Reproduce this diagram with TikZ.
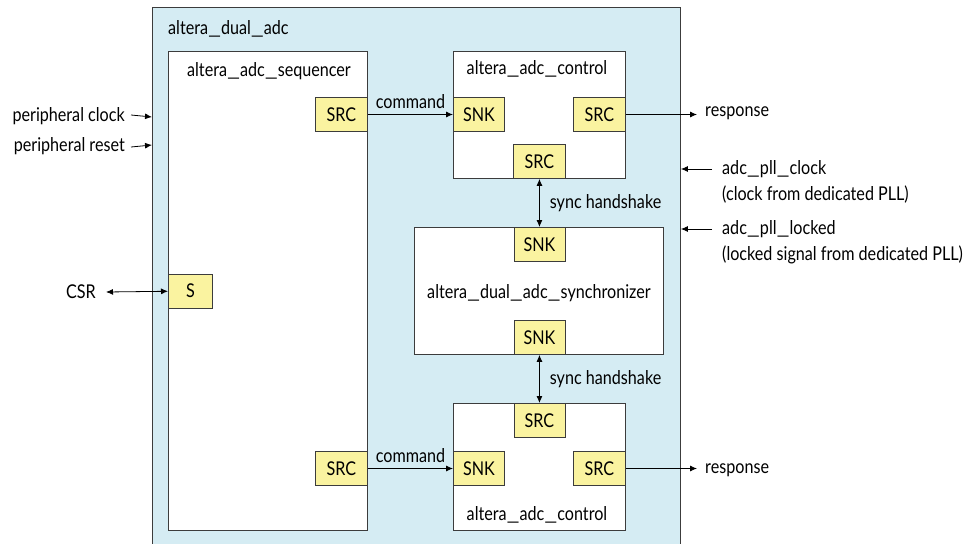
\documentclass[tikz,border=0pt]{standalone}
\usepackage{fontspec}
\setmainfont[FakeStretch=0.85]{Lato}
\usetikzlibrary{positioning,arrows.meta}
\definecolor{adcblue}{RGB}{213,236,243}
\definecolor{portyellow}{RGB}{250,243,160}
\definecolor{edgegray}{RGB}{60,60,60}
\newcommand{\us}{\scalebox{1.75}[1]{\_}}

\begin{document}
\begin{tikzpicture}[x=1pt, y=-1pt, >={Latex[length=7pt,width=6pt]},
			font=\fontsize{19}{23}\selectfont,
			blk/.style={draw=edgegray,line width=0.9pt,fill=white,inner sep=0pt},
			port/.style={draw=edgegray,line width=0.9pt,fill=portyellow,inner sep=0pt,minimum width=52,minimum height=34},
			lbl/.style={inner sep=0pt},
			wire/.style={line width=0.8pt}]
			
			\useasboundingbox (0,0) rectangle (976,543);
			
			% outer block
			\node[blk, fill=adcblue, anchor=north west, minimum width=528, minimum height=545] (top) at (152,7) {};
			\node[lbl, anchor=west] (toplbl) at (168,29) {altera\us dual\us adc};
			
			% sequencer
			\node[blk, anchor=north west, minimum width=199, minimum height=479] (seq) at (168,51) {};
			\node[lbl] (seqlbl) at (269,71) {altera\us adc\us sequencer};
			\node[port, anchor=east] (seqsrc1) at (seq.east |- 0,114.5) {SRC};
			\node[port, anchor=east] (seqsrc2) at (seq.east |- 0,468.5) {SRC};
			\node[port, anchor=west, minimum width=44] (seqs) at (seq.west |- 0,291) {S};
			
			% upper control
			\node[blk, anchor=north west, minimum width=172, minimum height=127] (ctrl1) at (453,51) {};
			\node[lbl] (ctrl1lbl) at (537,69) {altera\us adc\us control};
			\node[port, anchor=west, minimum width=51] (ctrl1snk) at (ctrl1.west |- seqsrc1) {SNK};
			\node[port, anchor=east] (ctrl1src) at (ctrl1.east |- seqsrc1) {SRC};
			\node[port, anchor=south] (ctrl1srcb) at (ctrl1.south) {SRC};
			
			% synchronizer
			\node[blk, anchor=north west, minimum width=249, minimum height=127] (sync) at (414,227) {};
			\node[lbl] (synclbl) at (539,293) {altera\us dual\us adc\us synchronizer};
			\node[port, anchor=north, minimum width=51] (syncsnk1) at (sync.north -| ctrl1srcb) {SNK};
			\node[port, anchor=south, minimum width=51] (syncsnk2) at (sync.south -| ctrl1srcb) {SNK};
			
			% lower control
			\node[blk, anchor=north west, minimum width=172, minimum height=127] (ctrl2) at (453,403) {};
			\node[lbl] (ctrl2lbl) at (537,515) {altera\us adc\us control};
			\node[port, anchor=north, minimum width=51] (ctrl2srct) at (ctrl2.north -| syncsnk2) {SRC};
			\node[port, anchor=west, minimum width=51] (ctrl2snk) at (ctrl2.west |- seqsrc2) {SNK};
			\node[port, anchor=east] (ctrl2src) at (ctrl2.east |- seqsrc2) {SRC};
			
			% outside signals
			\node[lbl, anchor=east] (pclk) at (125,116) {peripheral clock};
			\node[lbl, anchor=east] (prst) at (125,146) {peripheral reset};
			\node[lbl, anchor=east] (csr) at (96,292) {CSR};
			\node[lbl, anchor=west] (resp1) at (705,113) {response};
			\node[lbl, anchor=west] (resp2) at (705,470) {response};
			\node[lbl, anchor=west] (pllclk) at (722,169) {adc\us pll\us clock};
			\node[lbl, anchor=west] (pllclkd) at (722,195) {(clock from dedicated PLL)};
			\node[lbl, anchor=west] (plllck) at (722,229) {adc\us pll\us locked};
			\node[lbl, anchor=west] (plllckd) at (722,255) {(locked signal from dedicated PLL)};
			
			\coordinate (resp1in) at (697,114.5);
			\coordinate (resp2in) at (697,468.5);
			
			\draw[wire,->] (seqsrc1) -- node[lbl, above=5pt] {command} (ctrl1snk);
			\draw[wire,->] (seqsrc2) -- node[lbl, above=5pt] {command} (ctrl2snk);
			\draw[wire,->] (ctrl1src) -- (resp1in);
			\draw[wire,->] (ctrl2src) -- (resp2in);
			\draw[wire,<->] (ctrl1srcb) -- node[lbl, right=10pt] {sync handshake} (syncsnk1);
			\draw[wire,<->] (syncsnk2) -- node[lbl, right=10pt] {sync handshake} (ctrl2srct);
			\draw[wire,<->] ([xshift=10pt]csr.east) -- (seqs);
			\draw[wire,->] ([xshift=6pt,yshift=1pt]pclk.east) -- (top.west |- 0,117);
			\draw[wire,->] ([xshift=6pt,yshift=-1pt]prst.east) -- (top.west |- 0,145);
			\draw[wire,->] ([xshift=-10pt]pllclk.west) -- (top.east |- 0,169);
			\draw[wire,->] ([xshift=-10pt]plllck.west) -- (top.east |- 0,229);
			\end{tikzpicture}
\end{document}
